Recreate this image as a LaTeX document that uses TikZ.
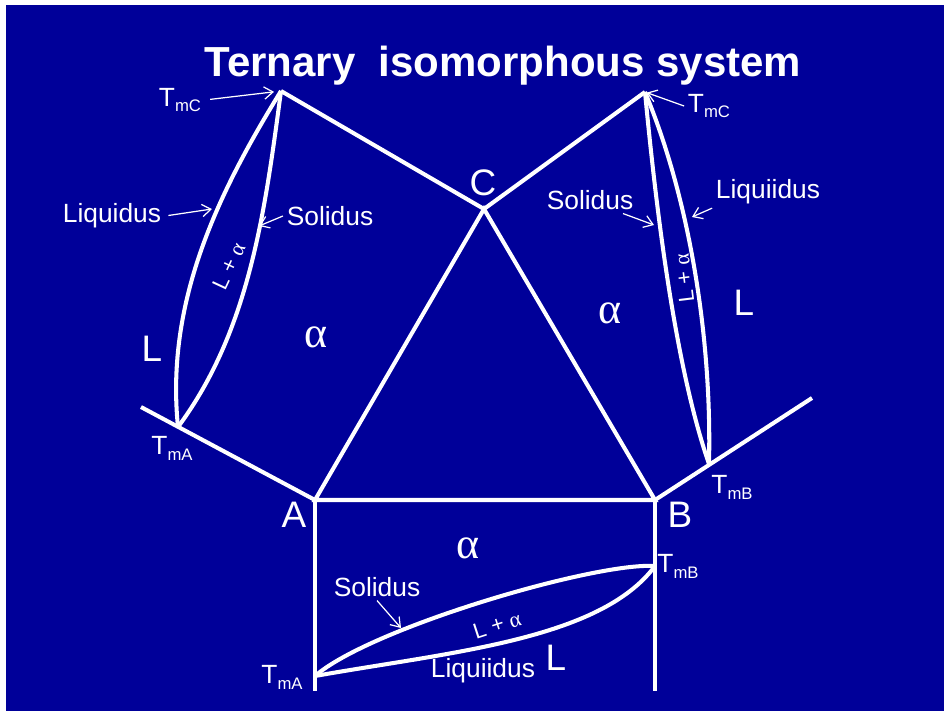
\documentclass[tikz,border=0pt]{standalone}
\usepackage{fontspec}
\setmainfont{Liberation Sans}
\newfontfamily\greekfont{Liberation Serif}
\usetikzlibrary{arrows.meta}
\definecolor{slideBlue}{HTML}{000099}
\tikzset{
  phase/.style={draw=white, line width=2.3pt},
  pointer/.style={draw=white, line width=0.7pt,
    -{Straight Barb[length=5pt, width=7pt]}},
  lbl/.style={text=white, font=\fontsize{15}{17}\selectfont, inner sep=2pt},
  region/.style={text=white, font=\fontsize{21}{24}\selectfont, inner sep=0pt},
  greek/.style={text=white, font=\greekfont\fontsize{25}{27}\selectfont, inner sep=0pt},
  lens/.style={text=white, font=\fontsize{12.5}{14}\selectfont, inner sep=1pt},
}
\newcommand{\Tm}[1]{T\raisebox{-3.4pt}{\fontsize{9.5}{10}\selectfont #1}}
\newcommand{\alp}{{\greekfont α}}

\begin{document}
\begin{tikzpicture}[x=0.02cm, y=-0.02cm]

  % slide background
  \fill[white] (0,0) rectangle (944,711);
  \fill[slideBlue] (6,5) rectangle (944,711);
  \useasboundingbox (0,0) rectangle (944,711);

  % title
  \node[text=white, font=\bfseries\fontsize{23.9}{28}\selectfont, anchor=base]
    (title) at (503,76) {Ternary\ \ isomorphous system};

  % composition triangle
  \coordinate (A) at (315,500);
  \coordinate (B) at (655,500);
  \coordinate (C) at (484,209);
  \draw[phase, line join=miter] (A) -- (B) -- (C) -- cycle;

  % binary A-C (left)
  \coordinate (tmcL) at (281,91);
  \coordinate (tmaL) at (178,427);
  \coordinate (endL) at (141,407);
  \draw[phase] (C) -- (tmcL);
  \draw[phase] (endL) -- (A);
  \draw[phase] (tmcL) .. controls (220,190) and (165,300) .. (tmaL); % liquidus
  \draw[phase] (tmcL) .. controls (265,210) and (250,330) .. (tmaL); % solidus

  % binary B-C (right)
  \coordinate (tmcR) at (645,92);
  \coordinate (tmbR) at (709,464);
  \coordinate (endR) at (812,398);
  \draw[phase] (C) -- (tmcR);
  \draw[phase] (B) -- (endR);
  \draw[phase] (tmcR) .. controls (660,250) and (680,380) .. (tmbR); % solidus
  \draw[phase] (tmcR) .. controls (690,200) and (712,340) .. (tmbR); % liquidus

  % binary A-B (bottom)
  \coordinate (baseA) at (315,691);
  \coordinate (baseB) at (655,691);
  \coordinate (tmaB) at (315,676);
  \coordinate (tmbB) at (655,566);
  \draw[phase] (A) -- (baseA);
  \draw[phase] (B) -- (baseB);
  \draw[phase] (tmaB) .. controls (370,628) and (595,562) .. (tmbB); % solidus
  \draw[phase] (tmaB) .. controls (450,652) and (600,640) .. (tmbB); % liquidus

  % corner letters
  \node[region] (labA) at (294,515) {A};
  \node[region] (labB) at (680,515) {B};
  \node[region] (labC) at (483,183) {C};

  % left panel labels
  \node[lbl] (tmcLlab) at (180,100) {\Tm{mC}};
  \node[lbl] (tmaLlab) at (172,448) {\Tm{mA}};
  \node[lbl] (liqL) at (112,216) {Liquidus};
  \node[lbl] (solL) at (330,216) {Solidus};
  \node[region] (regLL) at (152,349) {L};
  \node[greek] (regLa) at (316,337) {α};
  \node[lens, rotate=65] (lensL) at (229,266) {L + \alp};

  % right panel labels
  \node[lbl] (tmcRlab) at (709,106) {\Tm{mC}};
  \node[lbl] (tmbRlab) at (732,487) {\Tm{mB}};
  \node[lbl] (solR) at (590,200) {Solidus};
  \node[lbl] (liqR) at (768,192) {Liquiidus};
  \node[region] (regRL) at (744,303) {L};
  \node[greek] (regRa) at (610,313) {α};
  \node[lens, rotate=97] (lensR) at (684,278) {L + \alp};

  % bottom panel labels
  \node[lbl] (tmaBlab) at (282,677) {\Tm{mA}};
  \node[lbl] (tmbBlab) at (678,566) {\Tm{mB}};
  \node[lbl] (solB) at (377,587) {Solidus};
  \node[lbl] (liqB) at (483,671) {Liquiidus};
  \node[region] (regBL) at (556,658) {L};
  \node[greek] (regBa) at (468,548) {α};
  \node[lens, rotate=18] (lensB) at (497,625) {L + \alp};

  % pointers onto the curves
  \coordinate (pLiqL) at (212,209);
  \coordinate (pSolL) at (259,226);
  \coordinate (pSolR) at (654,225);
  \coordinate (pLiqR) at (692,217);
  \coordinate (pSolB) at (401,628);
  \draw[pointer, shorten <=3pt, shorten >=4pt] (tmcLlab.east) -- (tmcL);
  \draw[pointer, shorten >=1pt] (tmcRlab.west) -- (tmcR);
  \draw[pointer, shorten <=2pt] (liqL.east) -- (pLiqL);
  \draw[pointer] (solL.west) -- (pSolL);
  \draw[pointer] ([xshift=-8pt]solR.south east) -- (pSolR);
  \draw[pointer] (liqR.south west) -- (pLiqR);
  \draw[pointer] (solB.south) -- (pSolB);

\end{tikzpicture}
\end{document}
